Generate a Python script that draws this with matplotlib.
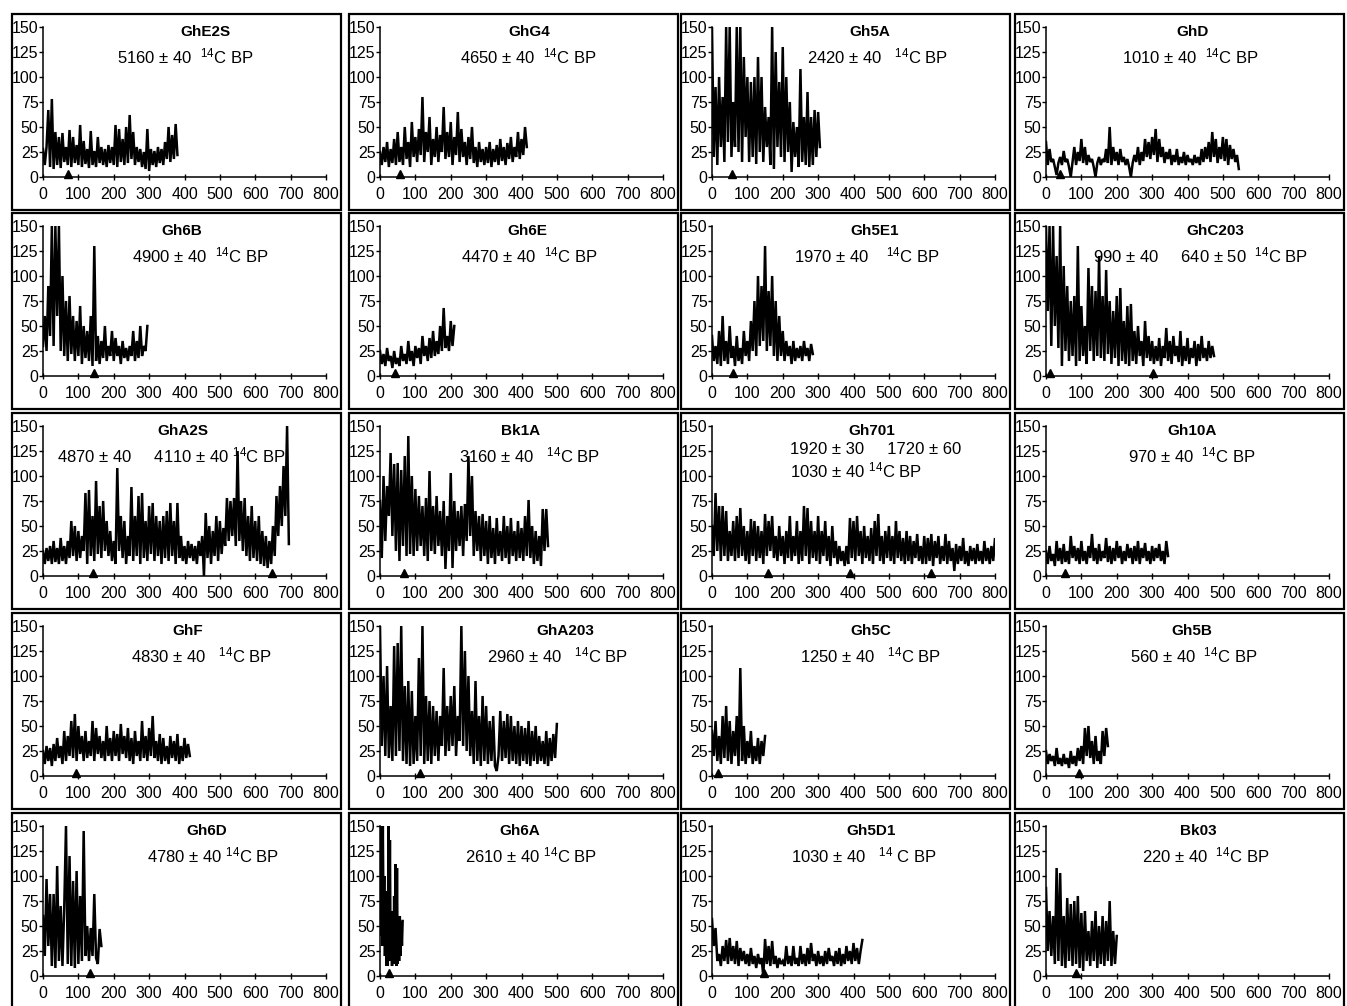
import numpy as np
import matplotlib.pyplot as plt
from matplotlib.patches import Rectangle

plt.rcParams["font.family"] = ["Liberation Sans", "DejaVu Sans"]
plt.rcParams["mathtext.fontset"] = "custom"
plt.rcParams["mathtext.rm"] = "Liberation Sans"
plt.rcParams["mathtext.it"] = "Liberation Sans:italic"

# ---- data -----------------------------------------------------------------
NAMES = [
    "GhE2S", "GhG4", "Gh5A", "GhD",
    "Gh6B", "Gh6E", "Gh5E1", "GhC203",
    "GhA2S", "Bk1A", "Gh701", "Gh10A",
    "GhF", "GhA203", "Gh5C", "Gh5B",
    "Gh6D", "Gh6A", "Gh5D1", "Bk03",
]

DATES = [
    "5160 ± 40  $^{14}$C BP", "4650 ± 40  $^{14}$C BP",
    "2420 ± 40   $^{14}$C BP", "1010 ± 40  $^{14}$C BP",
    "4900 ± 40  $^{14}$C BP", "4470 ± 40  $^{14}$C BP",
    "1970 ± 40    $^{14}$C BP", "990 ± 40     640 ± 50  $^{14}$C BP",
    "4870 ± 40     4110 ± 40 $^{14}$C BP", "3160 ± 40   $^{14}$C BP",
    "1920 ± 30     1720 ± 60\n1030 ± 40 $^{14}$C BP", "970 ± 40  $^{14}$C BP",
    "4830 ± 40   $^{14}$C BP", "2960 ± 40   $^{14}$C BP",
    "1250 ± 40   $^{14}$C BP", "560 ± 40  $^{14}$C BP",
    "4780 ± 40 $^{14}$C BP", "2610 ± 40 $^{14}$C BP",
    "1030 ± 40   $^{14}$ C BP", "220 ± 40  $^{14}$C BP",
]

# years between successive readings of each series
STEPS = [5, 5, 5, 5, 5, 5, 5, 5, 5, 5, 5, 5, 5, 5, 5, 5, 5, 2, 5, 5]

# position (years) of the dated samples, shown as triangles on the axis
MARKS = [
    [71], [57], [57], [40],
    [144], [42], [59], [10, 303],
    [141, 648], [68], [157, 390, 620], [54],
    [93], [112], [17], [93],
    [132], [25], [148], [86],
]

GHE2S = [28, 12, 30, 67, 10, 78, 8, 45, 12, 40, 9, 44, 15, 30, 12, 47, 10, 40, 14, 32,
         12, 52, 10, 36, 13, 28, 9, 46, 12, 26, 10, 40, 14, 30, 12, 28, 10, 32, 14, 30,
         12, 52, 10, 48, 15, 38, 12, 50, 14, 62, 18, 45, 12, 30, 15, 28, 10, 25, 8, 48,
         6, 28, 12, 26, 10, 30, 14, 28, 12, 35, 18, 50, 15, 42, 18, 53, 22]
GHG4 = [25, 12, 30, 15, 35, 10, 28, 14, 38, 12, 45, 15, 30, 12, 50, 18, 35, 10, 55, 20,
        40, 15, 48, 22, 80, 15, 45, 25, 60, 12, 38, 20, 50, 15, 42, 25, 70, 18, 45, 20,
        55, 12, 40, 22, 65, 15, 48, 20, 35, 12, 40, 18, 50, 14, 30, 10, 35, 15, 28, 12,
        30, 14, 35, 10, 28, 15, 32, 12, 38, 16, 30, 12, 34, 18, 40, 15, 30, 20, 45, 18,
        38, 22, 50, 30]
GH5A = [150, 20, 90, 12, 100, 30, 80, 15, 150, 35, 150, 20, 75, 30, 150, 25, 150, 15, 120, 40,
        100, 15, 95, 20, 100, 13, 120, 25, 100, 15, 70, 30, 60, 12, 150, 8, 125, 30, 95, 20,
        130, 15, 100, 25, 75, 5, 55, 20, 50, 10, 108, 15, 60, 12, 85, 10, 60, 12, 67, 20,
        65, 30]
GHD = [35, 12, 28, 15, 18, 10, 2, 14, 20, 12, 26, 15, 18, 10, 0, 15, 30, 12, 25, 16,
       38, 14, 30, 12, 22, 15, 18, 10, 0, 14, 20, 12, 18, 15, 28, 14, 50, 12, 30, 16,
       25, 12, 28, 15, 20, 12, 18, 10, 0, 14, 22, 15, 30, 12, 25, 16, 38, 20, 35, 18,
       40, 22, 48, 15, 38, 20, 30, 14, 25, 18, 28, 12, 22, 15, 28, 12, 20, 14, 25, 12,
       22, 15, 18, 12, 22, 14, 20, 12, 28, 15, 30, 18, 35, 15, 45, 20, 38, 14, 30, 18,
       40, 16, 38, 12, 32, 18, 28, 15, 22, 8]
GH6B = [30, 60, 25, 90, 40, 150, 30, 150, 60, 150, 25, 100, 20, 75, 15, 80, 22, 60, 15, 55,
        20, 70, 12, 50, 18, 45, 15, 60, 10, 130, 15, 40, 12, 35, 18, 50, 15, 30, 20, 45,
        15, 38, 20, 30, 12, 35, 18, 28, 15, 30, 20, 45, 15, 35, 18, 50, 20, 30, 25, 50]
GH6E = [25, 12, 22, 10, 28, 15, 20, 8, 25, 12, 18, 10, 30, 15, 22, 12, 35, 15, 25, 10,
        30, 18, 28, 12, 40, 20, 30, 15, 38, 18, 45, 20, 35, 22, 50, 25, 68, 28, 40, 25,
        55, 30, 50]
GH5E1 = [40, 15, 30, 12, 45, 10, 60, 15, 35, 12, 50, 18, 30, 10, 40, 15, 28, 12, 45, 20,
         35, 15, 55, 25, 75, 20, 100, 30, 90, 35, 130, 25, 85, 30, 100, 20, 75, 15, 60, 20,
         45, 15, 35, 20, 30, 12, 35, 15, 28, 18, 30, 15, 35, 20, 28, 15, 32, 22]
GHC203 = [150, 65, 150, 30, 150, 50, 120, 28, 150, 10, 110, 25, 90, 15, 75, 20, 80, 10, 130, 15,
          70, 20, 50, 12, 108, 25, 90, 15, 85, 20, 120, 18, 80, 15, 106, 22, 75, 12, 65, 18,
          80, 10, 88, 15, 55, 12, 70, 10, 72, 15, 45, 12, 50, 20, 35, 10, 55, 18, 40, 15,
          35, 12, 30, 15, 38, 10, 30, 18, 48, 15, 35, 12, 40, 20, 30, 14, 45, 10, 30, 15,
          38, 12, 28, 18, 35, 10, 32, 15, 40, 18, 28, 15, 35, 18, 30, 20]
GHA2S = [25, 12, 28, 15, 30, 12, 35, 14, 28, 12, 38, 15, 30, 12, 35, 18, 55, 20, 50, 15,
         45, 18, 40, 25, 83, 12, 86, 20, 60, 15, 95, 22, 70, 18, 75, 25, 55, 20, 45, 15,
         35, 12, 108, 25, 60, 18, 55, 12, 40, 20, 89, 15, 60, 20, 80, 12, 83, 18, 55, 15,
         70, 22, 73, 15, 60, 20, 55, 12, 60, 18, 65, 15, 73, 20, 55, 12, 73, 18, 40, 15,
         30, 12, 35, 18, 32, 15, 30, 12, 35, 20, 40, 0, 63, 18, 50, 12, 45, 20, 60, 15,
         55, 22, 48, 30, 78, 35, 75, 40, 78, 30, 125, 35, 75, 25, 78, 20, 60, 15, 70, 18,
         55, 15, 60, 12, 45, 10, 40, 8, 35, 12, 50, 20, 80, 40, 90, 50, 110, 60, 150, 32]
BK1A = [75, 18, 100, 35, 90, 60, 123, 40, 112, 25, 113, 15, 106, 30, 120, 20, 140, 22, 100, 20,
        87, 25, 80, 30, 70, 20, 78, 15, 105, 25, 70, 22, 80, 30, 65, 20, 75, 7, 60, 25,
        103, 8, 75, 25, 65, 30, 70, 20, 72, 35, 120, 40, 100, 20, 65, 25, 60, 15, 62, 20,
        55, 12, 60, 18, 48, 12, 58, 20, 45, 15, 60, 18, 50, 12, 58, 20, 45, 15, 55, 18,
        48, 15, 60, 20, 76, 18, 50, 12, 45, 15, 40, 10, 67, 25, 67, 30]
GH701 = [50, 20, 83, 25, 70, 15, 70, 20, 65, 15, 45, 20, 55, 15, 60, 18, 68, 20, 50, 15,
         45, 12, 57, 20, 55, 15, 50, 18, 45, 12, 62, 20, 55, 25, 60, 18, 40, 15, 50, 20,
         40, 12, 45, 18, 60, 15, 40, 20, 55, 12, 45, 15, 70, 20, 68, 12, 55, 18, 45, 15,
         60, 12, 45, 20, 55, 15, 40, 10, 50, 18, 35, 12, 30, 15, 25, 10, 30, 12, 58, 18,
         55, 15, 60, 20, 45, 12, 50, 18, 40, 15, 48, 12, 55, 20, 62, 15, 40, 12, 45, 18,
         50, 15, 40, 12, 55, 18, 45, 15, 38, 12, 45, 15, 40, 12, 35, 18, 42, 15, 30, 12,
         40, 12, 38, 15, 42, 10, 35, 18, 40, 12, 30, 15, 42, 12, 35, 15, 28, 5, 32, 12,
         30, 15, 38, 12, 25, 10, 30, 15, 28, 12, 32, 15, 25, 12, 35, 15, 28, 12, 30, 15,
         38, 12]
GH10A = [25, 12, 30, 15, 22, 10, 35, 15, 28, 12, 32, 14, 25, 12, 40, 18, 30, 15, 28, 12,
         35, 15, 25, 12, 30, 18, 42, 15, 28, 12, 32, 15, 25, 18, 38, 14, 30, 12, 28, 15,
         35, 18, 30, 12, 25, 15, 32, 18, 28, 12, 30, 15, 35, 12, 28, 18, 33, 15, 25, 12,
         30, 15, 28, 18, 32, 15, 25, 12, 35, 20]
GHF = [25, 12, 30, 15, 28, 10, 32, 15, 38, 18, 30, 12, 45, 15, 40, 20, 55, 18, 62, 15,
       50, 22, 40, 15, 45, 18, 35, 20, 55, 15, 48, 22, 40, 18, 35, 15, 50, 20, 38, 15,
       45, 20, 42, 15, 52, 22, 40, 18, 48, 15, 38, 12, 45, 20, 35, 15, 55, 18, 40, 15,
       48, 20, 60, 18, 35, 15, 42, 12, 38, 15, 30, 12, 40, 18, 35, 15, 42, 12, 30, 15,
       38, 18, 32, 20]
GHA203 = [150, 30, 100, 20, 110, 18, 70, 15, 130, 20, 133, 25, 150, 15, 90, 12, 95, 10, 85, 12,
          60, 15, 118, 20, 150, 12, 80, 15, 75, 12, 70, 20, 65, 15, 60, 30, 108, 20, 70, 25,
          80, 30, 90, 20, 60, 35, 150, 30, 125, 25, 100, 20, 65, 12, 95, 15, 60, 10, 80, 15,
          70, 12, 55, 15, 60, 10, 5, 20, 65, 15, 55, 18, 62, 12, 60, 15, 50, 12, 55, 10,
          50, 15, 48, 12, 55, 10, 45, 15, 50, 12, 40, 15, 35, 12, 45, 10, 38, 15, 42, 18,
          52]
GH5C = [45, 20, 55, 15, 40, 12, 60, 18, 70, 15, 55, 12, 45, 20, 60, 10, 108, 15, 50, 12,
        35, 18, 45, 12, 30, 15, 38, 12, 35, 20, 40]
GH5B = [25, 12, 22, 15, 20, 10, 28, 12, 18, 10, 22, 12, 18, 8, 25, 12, 20, 10, 28, 15,
        30, 12, 48, 20, 50, 18, 35, 12, 40, 15, 25, 12, 45, 20, 48, 30]
GH6D = [60, 20, 97, 30, 82, 10, 82, 8, 110, 15, 70, 10, 68, 150, 12, 120, 10, 95, 8, 105,
        12, 80, 15, 145, 20, 50, 15, 48, 20, 82, 18, 12, 47, 30]
GH6A = [150, 40, 150, 30, 150, 50, 100, 20, 85, 10, 60, 10, 150, 20, 136, 15, 60, 10, 65, 12,
        80, 15, 112, 10, 108, 12, 45, 15, 60, 20, 55, 30, 55]
GH5D1 = [57, 30, 48, 15, 22, 10, 30, 15, 36, 12, 38, 15, 30, 12, 35, 10, 28, 15, 25, 12,
         22, 10, 28, 12, 20, 8, 22, 12, 18, 0, 37, 12, 30, 10, 35, 12, 20, 8, 18, 12,
         15, 10, 30, 12, 20, 10, 30, 12, 18, 10, 30, 12, 22, 10, 28, 12, 33, 15, 22, 10,
         25, 12, 20, 10, 25, 12, 28, 15, 20, 10, 25, 12, 28, 10, 22, 12, 30, 15, 25, 12,
         33, 15, 28, 12, 25, 36]
BK03 = [88, 25, 65, 20, 60, 12, 108, 15, 103, 10, 60, 8, 78, 15, 72, 10, 75, 12, 80, 8,
        63, 5, 65, 15, 45, 10, 55, 15, 65, 8, 50, 12, 60, 10, 55, 15, 75, 10, 45, 12, 40]

SERIES = [GHE2S, GHG4, GH5A, GHD, GH6B, GH6E, GH5E1, GHC203, GHA2S, BK1A,
          GH701, GH10A, GHF, GHA203, GH5C, GH5B, GH6D, GH6A, GH5D1, BK03]

# ---- layout (pixels on a 1347 x 1006 canvas) ---------------------------------
W, H = 1347, 1006
COL_X0 = [43, 380, 712, 1046]
ROW_Y0 = [177, 376, 576, 776, 976]
AX_W, AX_H = 283, 150

TITLE_X = [458, 421, 447, 413, 393, 416, 461, 478, 396, 396,
           452, 413, 410, 523, 450, 413, 462, 396, 450, 430]
DATE_X = [401, 418, 469, 407, 444, 421, 438, 438, 362, 424,
          220, 413, 447, 503, 447, 418, 480, 428, 430, 452]


def draw_panel(fig, idx):
    r, c = divmod(idx, 4)
    x0, y0 = COL_X0[c], ROW_Y0[r]

    fig.add_artist(Rectangle(((x0 - 31) / W, 1 - (y0 + 33) / H), 329 / W, 196 / H,
                             transform=fig.transFigure, fill=False,
                             edgecolor="black", linewidth=1.6))

    ax = fig.add_axes([x0 / W, 1 - y0 / H, AX_W / W, AX_H / H])
    vals = np.array(SERIES[idx], dtype=float)
    years = np.arange(len(vals)) * STEPS[idx]
    ax.plot(years, vals, color="black", linewidth=1.8, solid_joinstyle="miter")
    ax.plot(MARKS[idx], [3] * len(MARKS[idx]), linestyle="none", marker="^",
            markersize=5.5, color="black", clip_on=False)

    ax.set_xlim(0, 800)
    ax.set_ylim(0, 150)
    ax.set_xticks(range(0, 801, 100))
    ax.set_yticks(range(0, 151, 25))
    ax.tick_params(axis="x", direction="inout", length=4, width=1, pad=5.5, labelsize=11.5)
    ax.tick_params(axis="y", direction="out", length=3, width=1, pad=0.3, labelsize=11.5)
    for side in ["top", "right"]:
        ax.spines[side].set_visible(False)
    for side in ["left", "bottom"]:
        ax.spines[side].set_linewidth(1.1)
    ax.patch.set_alpha(0)

    ax.text(TITLE_X[idx], 145, NAMES[idx], ha="center", va="center",
            fontsize=11, fontweight="bold", clip_on=False)
    multi = "\n" in DATES[idx]
    ax.text(DATE_X[idx], 115 if multi else 121, DATES[idx],
            ha="left" if multi else "center", va="center", fontsize=12,
            linespacing=1.2, clip_on=False)


def main():
    fig = plt.figure(figsize=(W / 100, H / 100), dpi=100)
    for idx in range(len(NAMES)):
        draw_panel(fig, idx)
    fig.savefig("out.png", dpi=100)
    plt.close(fig)


if __name__ == "__main__":
    main()
